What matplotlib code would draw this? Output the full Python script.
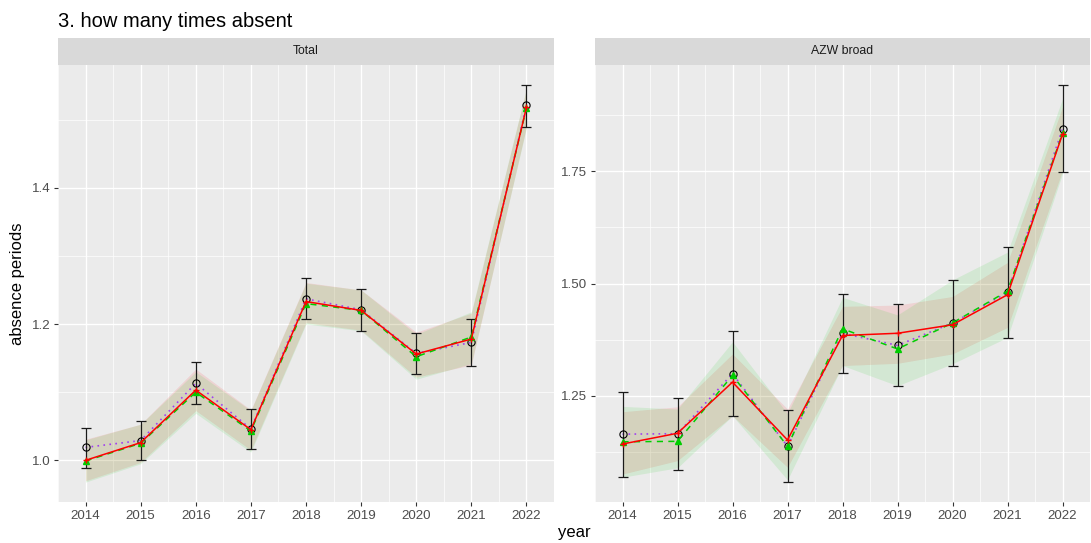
import matplotlib
matplotlib.use("Agg")
import matplotlib.pyplot as plt
from matplotlib.ticker import FixedLocator, FormatStrFormatter

plt.rcParams['font.family'] = ['Liberation Sans', 'DejaVu Sans']

years = [2014, 2015, 2016, 2017, 2018, 2019, 2020, 2021, 2022]

# ---- panel "Total" ----
total_obs = [1.019, 1.029, 1.113, 1.046, 1.237, 1.221, 1.157, 1.173, 1.521]
total_obs_lo = [0.989, 1.001, 1.082, 1.017, 1.208, 1.190, 1.127, 1.138, 1.489]
total_obs_hi = [1.048, 1.058, 1.144, 1.075, 1.267, 1.251, 1.187, 1.207, 1.551]
total_green = [0.999, 1.025, 1.100, 1.043, 1.230, 1.220, 1.152, 1.181, 1.517]
total_green_lo = [0.968, 0.995, 1.069, 1.012, 1.200, 1.190, 1.119, 1.142, 1.488]
total_green_hi = [1.030, 1.053, 1.130, 1.073, 1.260, 1.250, 1.185, 1.218, 1.546]
total_red = [1.000, 1.026, 1.103, 1.045, 1.233, 1.220, 1.156, 1.178, 1.518]
total_red_lo = [0.970, 0.997, 1.073, 1.015, 1.202, 1.191, 1.122, 1.140, 1.490]
total_red_hi = [1.031, 1.053, 1.134, 1.074, 1.261, 1.250, 1.188, 1.216, 1.545]

# ---- panel "AZW broad" ----
azw_obs = [1.164, 1.165, 1.299, 1.137, 1.389, 1.362, 1.412, 1.480, 1.845]
azw_obs_lo = [1.069, 1.084, 1.204, 1.057, 1.301, 1.271, 1.316, 1.379, 1.749]
azw_obs_hi = [1.257, 1.245, 1.394, 1.217, 1.477, 1.454, 1.508, 1.581, 1.943]
azw_green = [1.147, 1.148, 1.295, 1.137, 1.399, 1.354, 1.412, 1.483, 1.835]
azw_green_lo = [1.068, 1.089, 1.205, 1.062, 1.317, 1.272, 1.321, 1.380, 1.745]
azw_green_hi = [1.226, 1.220, 1.370, 1.210, 1.469, 1.430, 1.508, 1.570, 1.912]
azw_red = [1.142, 1.166, 1.280, 1.151, 1.384, 1.389, 1.408, 1.475, 1.833]
azw_red_lo = [1.075, 1.105, 1.205, 1.090, 1.317, 1.322, 1.343, 1.402, 1.752]
azw_red_hi = [1.214, 1.225, 1.343, 1.220, 1.449, 1.452, 1.471, 1.547, 1.894]

panels = [
    dict(name="Total", obs=total_obs, obs_lo=total_obs_lo, obs_hi=total_obs_hi,
         green=total_green, green_lo=total_green_lo, green_hi=total_green_hi,
         red=total_red, red_lo=total_red_lo, red_hi=total_red_hi,
         major=[1.0, 1.2, 1.4], minor=[0.9, 1.1, 1.3, 1.5], fmt="%.1f"),
    dict(name="AZW broad", obs=azw_obs, obs_lo=azw_obs_lo, obs_hi=azw_obs_hi,
         green=azw_green, green_lo=azw_green_lo, green_hi=azw_green_hi,
         red=azw_red, red_lo=azw_red_lo, red_hi=azw_red_hi,
         major=[1.25, 1.50, 1.75], minor=[1.125, 1.375, 1.625, 1.875], fmt="%.2f"),
]

W, H = 1091, 543
fig = plt.figure(figsize=(W / 100, H / 100), dpi=100)
fig.patch.set_facecolor("white")

RED = "#FF0000"
GREEN = "#00CD00"
PURPLE = "#A040F0"
GRID = "white"
TXT = "#4D4D4D"


def px_rect(x0, y0, x1, y1):
    return [x0 / W, 1 - y1 / H, (x1 - x0) / W, (y1 - y0) / H]


panel_x = [(58, 554), (595, 1090)]
top, bottom = 65, 502

for (x0, x1), p in zip(panel_x, panels):
    ax = fig.add_axes(px_rect(x0, top, x1, bottom))
    ax.set_facecolor("#EBEBEB")
    for s in ax.spines.values():
        s.set_visible(False)

    # ribbons
    ax.fill_between(years, p["red_lo"], p["red_hi"], color=RED, alpha=0.1, lw=0, zorder=2)
    ax.fill_between(years, p["green_lo"], p["green_hi"], color=GREEN, alpha=0.1, lw=0, zorder=2)

    # observed means with error bars
    ax.plot(years, p["obs"], color=PURPLE, lw=1.2, linestyle=(0, (1, 2.6)), zorder=3)
    yerr = [[o - l for o, l in zip(p["obs"], p["obs_lo"])],
            [h - o for o, h in zip(p["obs"], p["obs_hi"])]]
    ax.errorbar(years, p["obs"], yerr=yerr, fmt="none", ecolor="#1a1a1a",
                elinewidth=0.9, capsize=3.9, capthick=0.9, zorder=4)
    ax.plot(years, p["obs"], linestyle="none", marker="o", markersize=5.2,
            markerfacecolor="none", markeredgecolor="black", markeredgewidth=0.8, zorder=5)

    # model lines
    ax.plot(years, p["green"], color=GREEN, lw=1.1, linestyle=(0, (4, 3.5)), zorder=6)
    ax.plot(years, p["green"], linestyle="none", marker="^", markersize=5,
            color=GREEN, zorder=6)
    ax.plot(years, p["red"], color=RED, lw=1.1, zorder=7)
    ax.plot(years, p["red"], linestyle="none", marker="+", markersize=5,
            markeredgewidth=1.0, color=RED, zorder=7)

    # scales
    lo = min(min(p["obs_lo"]), min(p["green_lo"]), min(p["red_lo"]))
    hi = max(max(p["obs_hi"]), max(p["green_hi"]), max(p["red_hi"]))
    pad = (hi - lo) * 0.05
    ax.set_ylim(lo - pad, hi + pad)
    ax.set_xlim(2013.5, 2022.5)

    ax.xaxis.set_major_locator(FixedLocator(years))
    ax.xaxis.set_minor_locator(FixedLocator([y + 0.5 for y in years[:-1]] + [2013.5]))
    ax.yaxis.set_major_locator(FixedLocator(p["major"]))
    ax.yaxis.set_minor_locator(FixedLocator(p["minor"]))
    ax.yaxis.set_major_formatter(FormatStrFormatter(p["fmt"]))

    ax.grid(which="major", color=GRID, lw=1.0, zorder=0)
    ax.grid(which="minor", color=GRID, lw=0.5, zorder=0)
    ax.set_axisbelow(True)

    ax.tick_params(which="major", length=3, width=0.8, color="#333333",
                   labelsize=9.6, labelcolor=TXT, pad=2.5)
    ax.tick_params(which="minor", length=0)

    # facet strip
    sax = fig.add_axes(px_rect(x0, 38, x1, top))
    sax.set_facecolor("#D9D9D9")
    sax.set_xticks([])
    sax.set_yticks([])
    for s in sax.spines.values():
        s.set_visible(False)
    sax.text(0.5, 0.5, p["name"], ha="center", va="center", fontsize=8.8,
             color="#1A1A1A", transform=sax.transAxes)

fig.text(58 / W, 1 - 27 / H, "3. how many times absent", fontsize=14.5,
         ha="left", va="baseline", color="black")
fig.text(18 / W, 1 - (top + bottom) / 2 / H, "absence periods", fontsize=12,
         rotation=90, ha="center", va="center", color="black")
fig.text(574 / W, 1 - 533 / H, "year", fontsize=12, ha="center", va="center",
         color="black")

fig.savefig("out.png", dpi=100)
